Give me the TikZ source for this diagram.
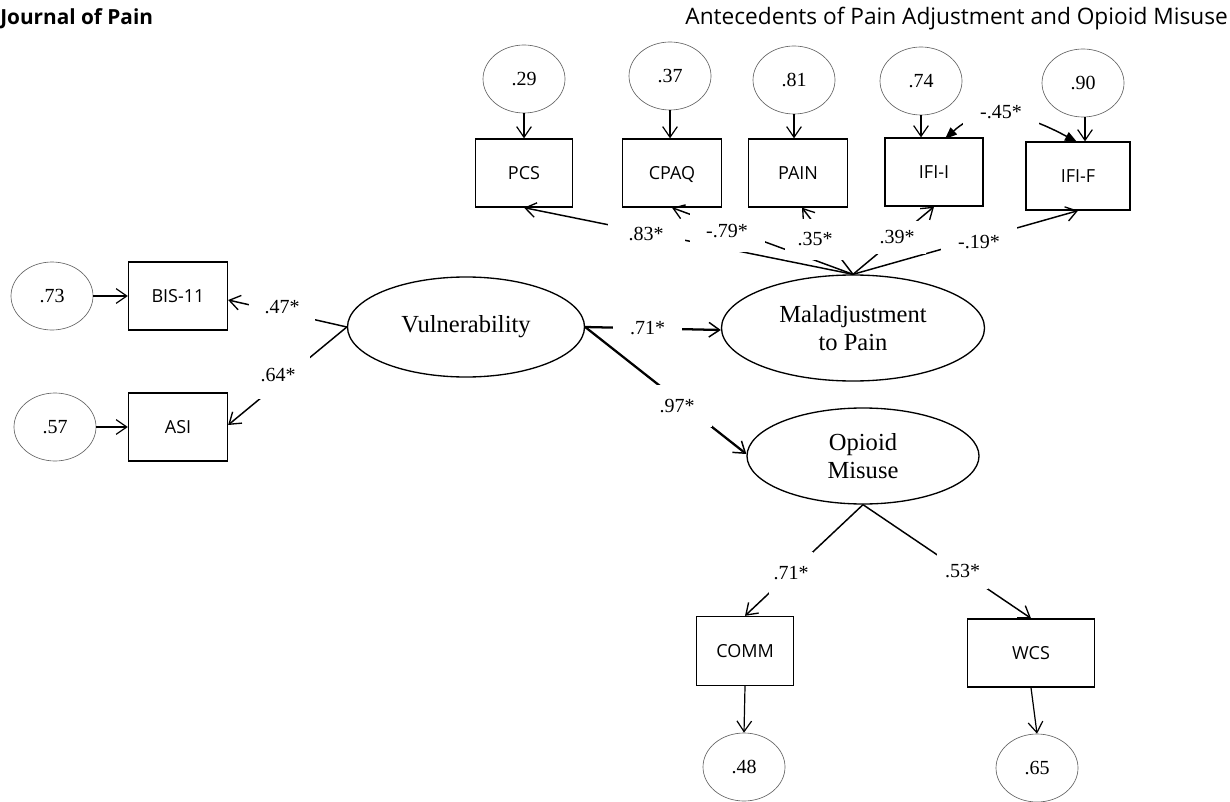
\documentclass[tikz,border=0pt]{standalone}
\usepackage{fontspec}
\setmainfont{Liberation Serif}
\newfontfamily\boxfont{Open Sans}
\usetikzlibrary{arrows.meta,shapes.geometric}
\newlength\upx
\setlength\upx{0.75pt}
\begin{document}
\begin{tikzpicture}[x=0.75pt,y=-0.75pt,
  err/.style={ellipse,draw=black!60,line width=0.5pt,minimum width=82*\upx,minimum height=68*\upx,inner sep=0pt,font=\fontsize{15}{18}\selectfont},
  obs/.style={rectangle,draw,line width=1pt,minimum height=68*\upx,inner sep=0pt,text height=9.64pt,text depth=0pt,font=\boxfont\fontsize{13.5}{16}\selectfont},
  lat/.style={ellipse,draw,line width=1pt,inner sep=0pt,font=\fontsize{18.4}{21}\selectfont,align=center},
  coef/.style={fill=white,inner sep=0pt,font=\fontsize{15}{18}\selectfont},
  conn/.style={line width=1.1pt,-{Straight Barb[length=8pt,width=11pt,line width=1pt]}},
  bold conn/.style={line width=1.7pt,-{Straight Barb[length=8pt,width=11pt,line width=1.1pt]}},
  errconn/.style={line width=0.9pt,-{Straight Barb[length=8pt,width=11pt,line width=0.9pt]}},
  cov/.style={line width=1.1pt,{Triangle[length=9pt,width=7pt]}-{Triangle[length=9pt,width=7pt]}}
]
\useasboundingbox (0,0) rectangle (1230,802);

% header
\node[anchor=west,inner sep=0pt,font=\boxfont\bfseries\fontsize{15.6}{18}\selectfont] (jt) at (0,19) {Journal of Pain};
\node[anchor=east,inner sep=0pt,font=\boxfont\fontsize{17}{20}\selectfont] (ht) at (1228,19) {Antecedents of Pain Adjustment and Opioid Misuse};

% top error terms and indicators
\node[err] (e29) at (524,79) {.29};
\node[err] (e37) at (670,76) {.37};
\node[err] (e81) at (794,80) {.81};
\node[err] (e74) at (921,81) {.74};
\node[err] (e90) at (1083,83) {.90};
\node[obs,minimum width=97*\upx] (pcs) at (524,173) {PCS};
\node[obs,minimum width=99*\upx] (cpaq) at (672,173) {CPAQ};
\node[obs,minimum width=99*\upx] (pain) at (798,173) {PAIN};
\node[obs,minimum width=98*\upx] (ifii) at (934,172) {IFI-I};
\node[obs,minimum width=104*\upx] (ifif) at (1078,176) {IFI-F};

\draw[errconn] (e29.south) -- (e29.south |- pcs.north);
\draw[errconn] (e37.south) -- (e37.south |- cpaq.north);
\draw[errconn] (e81.south) -- (e81.south |- pain.north);
\draw[errconn] (e74.south) -- (e74.south |- ifii.north);
\draw[errconn] ([xshift=1.5pt]e90.south) -- ([xshift=1.5pt]e90.south |- ifif.north);

% left indicators
\node[err] (e73) at (52,296) {.73};
\node[obs,minimum width=99*\upx] (bis) at (178,296) {BIS-11};
\node[err] (e57) at (55,427) {.57};
\node[obs,minimum width=99*\upx] (asi) at (178,427) {ASI};
\draw[errconn] (e73) -- (bis);
\draw[errconn] (e57) -- (asi);

% latent variables
\node[lat,minimum width=237*\upx,minimum height=100*\upx] (vul) at (466,327) {Vulnerability};
\node[lat,minimum width=263*\upx,minimum height=106*\upx] (mal) at (853,328) {Maladjustment\\to Pain};
\node[lat,minimum width=232*\upx,minimum height=96*\upx] (opi) at (863,456) {Opioid\\Misuse};

% bottom indicators
\node[obs,minimum width=97*\upx,minimum height=69*\upx] (comm) at (745,651) {COMM};
\node[obs,minimum width=127*\upx] (wcs) at (1031,653) {WCS};
\node[err] (e48) at (744,767) {.48};
\node[err] (e65) at (1037,768) {.65};
\draw[errconn] (comm.south) -- (e48.north);
\draw[errconn] (wcs.south) -- (e65.north);

% structural / measurement paths
\draw[conn] (vul.west) -- ([yshift=-3pt]bis.east);
\draw[conn] (vul.west) -- ([yshift=1.5pt]asi.east);
\draw[bold conn] (vul.east) -- ([yshift=-1.5pt]mal.west);
\draw[bold conn] (vul.east) -- ([yshift=1.5pt]opi.west);
\draw[conn] (mal.north) -- (pcs.south);
\draw[conn] (mal.north) -- (cpaq.south);
\draw[conn] (mal.north) -- ([xshift=3pt]pain.south);
\draw[conn] (mal.north) -- (ifii.south);
\draw[conn] (mal.north) -- (ifif.south);
\draw[conn] (opi.south) -- (comm.north);
\draw[conn] (opi.south) -- (wcs.north);

% correlated errors
\coordinate (cvA) at (945,139);
\coordinate (cvB) at (1077,142);
\draw[cov] (cvA) .. controls (985,102) and (1027,115) .. (cvB);

% coefficient labels
\node[coef,minimum width=77*\upx,minimum height=30*\upx] (c83) at (646,234) {.83*};
\node[coef,minimum width=75*\upx,minimum height=42*\upx] (c79) at (727,231) {-.79*};
\node[coef,minimum width=60*\upx,minimum height=41*\upx] (c35) at (815,239.5) {.35*};
\node[coef,minimum width=58*\upx,minimum height=33*\upx] (c39) at (897,237.5) {.39*};
\node[coef,minimum width=76*\upx,minimum height=40*\upx] (c19) at (979,242) {-.19*};
\node[coef,minimum width=76*\upx,minimum height=30*\upx] (c45) at (1001,112) {-.45*};
\node[coef,minimum width=66*\upx,minimum height=35*\upx] (c47) at (282,307.5) {.47*};
\node[coef,minimum width=64*\upx,minimum height=48*\upx] (c64) at (278,375) {.64*};
\node[coef,minimum width=69*\upx,minimum height=30*\upx] (c71a) at (647.5,328) {.71*};
\node[coef,minimum width=70*\upx,minimum height=42*\upx] (c97) at (677,406) {.97*};
\node[coef,minimum width=44*\upx,minimum height=42*\upx] (c71b) at (791,573) {.71*};
\node[coef,minimum width=51*\upx,minimum height=36*\upx] (c53) at (962.5,571) {.53*};
\end{tikzpicture}
\end{document}
